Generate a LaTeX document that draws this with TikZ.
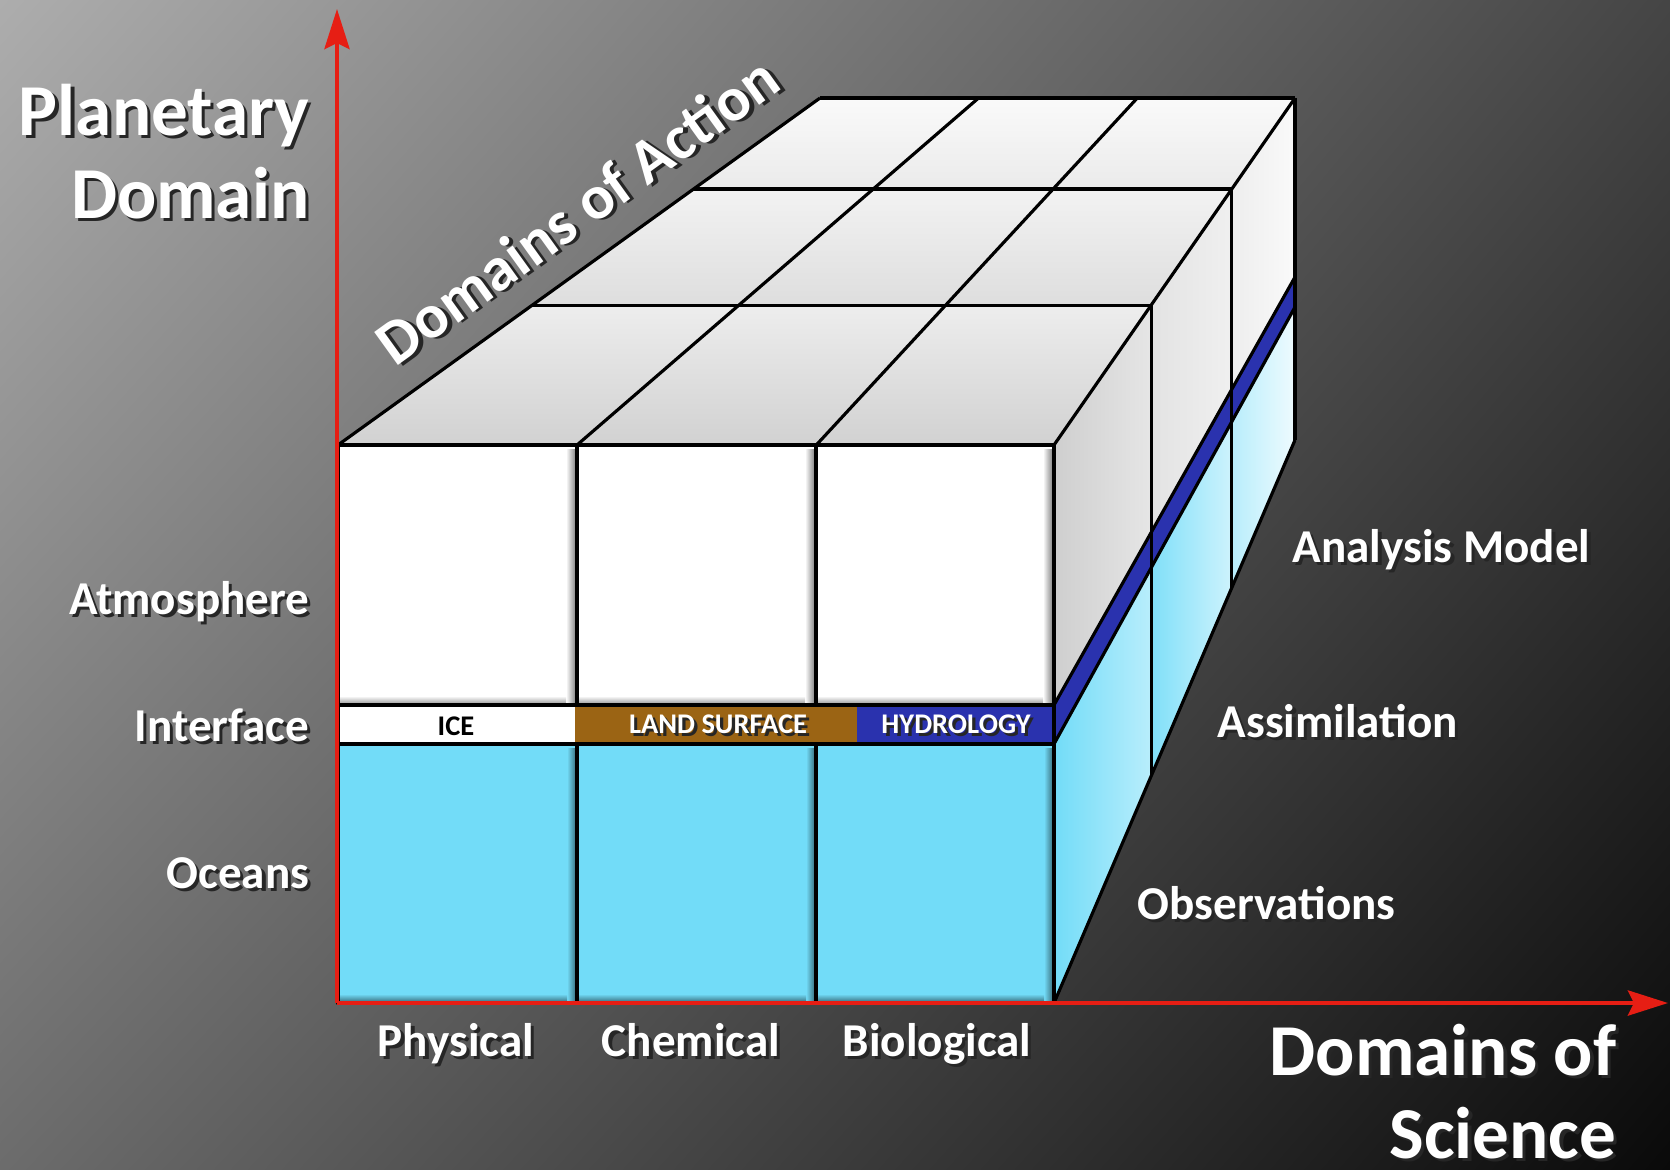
\documentclass[tikz,border=0pt]{standalone}
\usepackage{fontspec}
\setmainfont{Carlito}
\usetikzlibrary{arrows.meta,shadings}

\definecolor{bgtl}{HTML}{ADADAD}
\definecolor{bgtr}{HTML}{454545}
\definecolor{bgbl}{HTML}{6C6C6C}
\definecolor{bgbr}{HTML}{0A0A0A}
\definecolor{ocean}{HTML}{72DCF8}
\definecolor{land}{HTML}{9B6414}
\definecolor{hydro}{HTML}{2A32AE}
\definecolor{axisred}{HTML}{E61E14}

\newcommand{\shtext}[1]{\makebox[0pt][l]{\hspace{0.9pt}\raisebox{-0.9pt}{\color{black!85}#1}}#1}

\tikzset{
  edge/.style={line width=0.9pt, line join=round},
  cell/.style={line width=1.3pt, line join=round},
  axis/.style={line width=1.3pt, draw=axisred, -{Stealth[length=4mm,width=2.5mm,inset=0.6mm]}},
  lbl/.style={text=white, font=\bfseries\fontsize{13.4}{16}\selectfont, inner sep=0pt},
  big/.style={text=white, font=\bfseries\fontsize{20.8}{23.6}\selectfont, inner sep=0pt, align=right},
  bandlbl/.style={font=\bfseries\fontsize{8.1}{9.5}\selectfont, inner sep=0pt},
}

\begin{document}
\begin{tikzpicture}[x=0.01cm,y=-0.01cm]
\useasboundingbox (0,0) rectangle (1670,1169);
\shade[upper left=bgtl, upper right=bgtr, lower left=bgbl, lower right=bgbr] (0,0) rectangle (1670,1169);

% corners of the box, depth by depth
\foreach \k/\d in {0/0,1/0.403,2/0.738,3/1}
{
\foreach \i/\f in {0/0,1/0.3338,2/0.668,3/1}
  \coordinate (t\i\k) at ({338+482*\d+(716-241*\d)*\f},{445-347*\d});
\coordinate (sa\k) at ({1054+241*\d},{705-428*\d});
\coordinate (sb\k) at ({1054+241*\d},{744-437*\d});
\coordinate (sc\k) at ({1054+241*\d},{1003-563*\d});
}

% top
\foreach \k/\m/\cf/\cb in {0/1/18/7,1/2/13/5,2/3/8/2}
{
\foreach \i/\j in {0/1,1/2,2/3}
  \shade[top color=black!\cb, bottom color=black!\cf] (t\i\k) -- (t\j\k) -- (t\j\m) -- (t\i\m) -- cycle;
}

% right side
\foreach \k/\m/\ua/\ub/\la/\lb in {0/1/19/10/100/50,1/2/11/6/90/35,2/3/7/2/50/12}
{
\shade[left color=black!\ua, right color=black!\ub] (t3\k) -- (t3\m) -- (sa\m) -- (sa\k) -- cycle;
\shade[left color=ocean!\la, right color=ocean!\lb] (sb\k) -- (sb\m) -- (sc\m) -- (sc\k) -- cycle;
}
\fill[hydro] (sa0) -- (sa3) -- (sb3) -- (sb0) -- cycle;

\foreach \k in {0,...,3}
  \draw[edge] (t0\k) -- (t3\k);
\foreach \i in {0,...,3}
  \draw[edge] (t\i0) -- (t\i3);
\foreach \k in {1,2,3}
  \draw[edge] (t3\k) -- (sc\k);
\draw[edge] (sa0) -- (sa3) (sb0) -- (sb3) (sc0) -- (sc3);

% front
\foreach \xa/\xb in {338/577,577/816,816/1054}
{
\fill[white] (\xa,445) rectangle (\xb,705);
\shade[left color=white, right color=black!55] (\xb-11,449) rectangle (\xb,705);
\shade[top color=white, bottom color=black!45] (\xa,696) rectangle (\xb-11,705);
\fill[ocean] (\xa,744) rectangle (\xb,1003);
\shade[left color=ocean, right color=ocean!45!black] (\xb-10,748) rectangle (\xb,1003);
\shade[top color=ocean, bottom color=ocean!45!black] (\xa,994) rectangle (\xb-10,1003);
\draw[cell] (\xa,445) rectangle (\xb,705) (\xa,744) rectangle (\xb,1003);
}

% interface
\fill[white] (338,705) rectangle (575,744);
\fill[land] (575,705) rectangle (857,744);
\fill[hydro] (857,705) rectangle (1054,744);
\draw[cell] (338,705) rectangle (1054,744);
\node[bandlbl, text=black] (ice) at (456,726) {ICE};
\node[bandlbl, text=white] (lands) at (718,726) {\shtext{LAND SURFACE}};
\node[bandlbl, text=white] (hydr) at (956,726) {\shtext{HYDROLOGY}};

% axes
\coordinate (org) at (337,1003);
\coordinate (ytip) at (337,9);
\coordinate (xtip) at (1668,1003);
\draw[axis] (org) -- (ytip);
\draw[axis] (org) -- (xtip);

% labels
\node[big, anchor=east] (pdom) at (310,153) {\shtext{Planetary}\\\shtext{Domain}};
\node[big, anchor=east] (dsci) at (1617,1093) {\shtext{Domains of}\\\shtext{Science}};
\node[big, font=\bfseries\fontsize{17.8}{20}\selectfont, rotate=35.75, anchor=base] (dact) at (590,228) {\shtext{Domains of Action}};

\node[lbl, anchor=mid east] (atm) at (310,606) {\shtext{Atmosphere}};
\node[lbl, anchor=mid east] (intf) at (310,733) {\shtext{Interface}};
\node[lbl, anchor=mid east] (ocn) at (310,880) {\shtext{Oceans}};

\node[lbl, anchor=mid] (phys) at (456,1048) {\shtext{Physical}};
\node[lbl, anchor=mid] (chem) at (691,1048) {\shtext{Chemical}};
\node[lbl, anchor=mid] (biol) at (937,1048) {\shtext{Biological}};

\node[lbl, anchor=mid west] (anmod) at (1292,554) {\shtext{Analysis Model}};
\node[lbl, anchor=mid west] (assim) at (1217,729) {\shtext{Assimilation}};
\node[lbl, anchor=mid west] (obs) at (1137,911) {\shtext{Observations}};
\end{tikzpicture}
\end{document}
